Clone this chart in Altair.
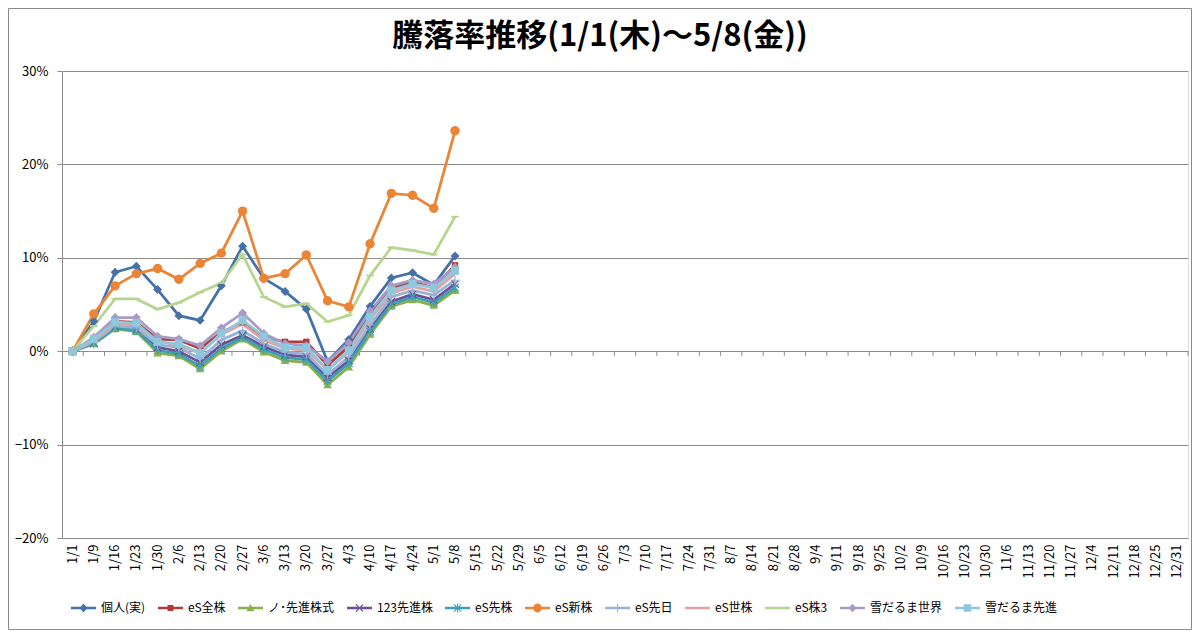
import math
import altair as alt
import pandas as pd

# ---------------- data ----------------
cats = ["1/1", "1/9", "1/16", "1/23", "1/30", "2/6", "2/13", "2/20", "2/27",
        "3/6", "3/13", "3/20", "3/27", "4/3", "4/10", "4/17", "4/24", "5/1",
        "5/8", "5/15", "5/22", "5/29", "6/5", "6/12", "6/19", "6/26", "7/3",
        "7/10", "7/17", "7/24", "7/31", "8/7", "8/14", "8/21", "8/28", "9/4",
        "9/11", "9/18", "9/25", "10/2", "10/9", "10/16", "10/23", "10/30",
        "11/6", "11/13", "11/20", "11/27", "12/4", "12/11", "12/18", "12/25",
        "12/31"]

series_names = ["個人(実)", "eS全株", "ノ･先進株式", "123先進株", "eS先株", "eS新株",
                "eS先日", "eS世株", "eS株3", "雪だるま世界", "雪だるま先進"]

kojin = [0, 3.2, 8.45, 9.1, 6.6, 3.8, 3.3, 7.0, 11.25, 7.8, 6.4, 4.5, -1.1, 1.25, 4.8, 7.85, 8.4, 7.1, 10.2]
es_zen = [0, 1.2, 3.2, 3.1, 1.3, 1.2, 0.3, 2.0, 3.1, 1.5, 1.0, 1.0, -1.5, 0.5, 3.9, 6.8, 7.4, 6.8, 9.2]
no_senshin = [0, 0.8, 2.4, 2.1, -0.2, -0.5, -1.9, 0.0, 1.3, -0.1, -1.0, -1.2, -3.6, -1.7, 1.8, 4.8, 5.5, 4.9, 6.5]
s123 = [0, 0.9, 2.6, 2.3, 0.4, 0.0, -1.2, 0.7, 1.7, 0.5, -0.4, -0.6, -2.8, -1.0, 2.4, 5.3, 6.1, 5.5, 7.2]
es_sen = [0, 0.8, 2.5, 2.2, 0.1, -0.3, -1.6, 0.3, 1.5, 0.2, -0.7, -0.9, -3.2, -1.3, 2.1, 5.0, 5.8, 5.2, 6.8]
es_shin = [0, 4.0, 7.0, 8.3, 8.85, 7.7, 9.4, 10.5, 15.0, 7.8, 8.3, 10.3, 5.4, 4.75, 11.5, 16.9, 16.7, 15.3, 23.6]
es_senjitsu = [0, 1.0, 2.7, 2.5, 0.7, 0.4, -0.8, 1.2, 2.2, 0.8, -0.1, -0.3, -2.5, -0.6, 2.8, 5.8, 6.5, 6.0, 7.6]
es_se = [0, 1.1, 2.9, 2.8, 1.1, 0.6, -0.2, 1.8, 2.9, 1.2, 0.3, 0.1, -2.0, -0.1, 3.4, 6.2, 6.9, 6.4, 8.3]
es_kabu3 = [0, 2.7, 5.6, 5.6, 4.5, 5.2, 6.3, 7.3, 10.35, 5.8, 4.75, 5.1, 3.15, 3.85, 8.1, 11.1, 10.8, 10.35, 14.4]
yuki_sekai = [0, 1.5, 3.6, 3.6, 1.6, 1.3, 0.6, 2.5, 4.1, 1.9, 0.8, 0.6, -1.1, 0.9, 4.3, 7.0, 7.6, 7.2, 9.0]
yuki_senshin = [0, 1.3, 3.1, 3.0, 1.0, 0.8, -0.2, 1.9, 3.3, 1.6, 0.4, 0.4, -2.0, 0.1, 3.7, 6.5, 7.2, 6.8, 8.6]

all_values = [kojin, es_zen, no_senshin, s123, es_sen, es_shin,
              es_senjitsu, es_se, es_kabu3, yuki_sekai, yuki_senshin]

colors = ["#4472A8", "#B03C3A", "#8AB04A", "#6F4E96", "#3AA0B8", "#EC8435",
          "#95B3D7", "#E6A0A0", "#B8D58F", "#A99BC8", "#8DC8DC"]

y_ticks = [-0.2, -0.1, 0.0, 0.1, 0.2, 0.3]
title_text = "騰落率推移(1/1(木)～5/8(金))"

rows = []
for si, (s, vals) in enumerate(zip(series_names, all_values)):
    for ci, (c, v) in enumerate(zip(cats, vals)):
        rows.append({"date": c, "idx": ci, "series": s, "value": v / 100.0})
df = pd.DataFrame(rows)
cat_df = pd.DataFrame({"date": cats})

# ---------------- marker shapes ----------------
def sq(h):
    return [[(-h, -h), (h, -h), (h, h), (-h, h)]]

def circ(r, n=20):
    return [[(r * math.cos(2 * math.pi * k / n), r * math.sin(2 * math.pi * k / n)) for k in range(n)]]

diamond = [[(0, -1.05), (1.05, 0), (0, 1.05), (-1.05, 0)]]
triangle = [[(0, -1.0), (1.0, 0.8), (-1.0, 0.8)]]
xmark = [[(-1, -0.8), (-0.8, -1), (0, -0.2), (0.8, -1), (1, -0.8), (0.2, 0),
          (1, 0.8), (0.8, 1), (0, 0.2), (-0.8, 1), (-1, 0.8), (-0.2, 0)]]
asterisk = xmark + [[(-0.13, -1.1), (0.13, -1.1), (0.13, 1.1), (-0.13, 1.1)]]
plus = [[(-1, -0.13), (1, -0.13), (1, 0.13), (-1, 0.13)],
        [(-0.13, -1), (0.13, -1), (0.13, 1), (-0.13, 1)]]
dash = [[(-0.9, -0.22), (0.9, -0.22), (0.9, 0.22), (-0.9, 0.22)]]
nomark = sq(0.25)

markers = [diamond, sq(0.75), triangle, xmark, asterisk, circ(1.1),
           plus, nomark, dash, diamond, sq(0.95)]


def to_path(polys, s=1.0, dx=0.0):
    out = ""
    for pts in polys:
        out += "M" + "L".join(f"{x * s + dx:.3f},{y * s:.3f}" for x, y in pts) + "Z"
    return out


point_paths = [to_path(m) for m in markers]
legend_line = [[(-1.0, -0.26), (4.0, -0.26), (4.0, 0.26), (-1.0, 0.26)]]
legend_paths = [to_path(legend_line) + to_path(m, 0.8, 1.5) for m in markers]

# ---------------- chart ----------------
GRID = "#8C8C8C"
FONT = "Noto Sans CJK JP"
W, H = 1126, 467
step = W / len(cats)

x_enc = alt.X("date:N", sort=cats, scale=alt.Scale(domain=cats),
              axis=alt.Axis(title=None, labelAngle=270, domain=False, ticks=False,
                            grid=False, labelPadding=6, labelFontSize=13,
                            labelFont=FONT, labelColor="#000000"))
y_enc = alt.Y("value:Q", scale=alt.Scale(domain=[-0.2, 0.3], nice=False, zero=False),
              axis=alt.Axis(title=None, values=y_ticks, format=".0%", grid=True,
                            gridColor=GRID, gridWidth=1, domainColor=GRID,
                            tickColor=GRID, tickSize=5, labelPadding=9,
                            labelFontSize=13, labelFont=FONT, labelColor="#000000"))
color_enc = alt.Color("series:N", scale=alt.Scale(domain=series_names, range=colors),
                      legend=None)

frame = alt.Chart(alt.Data(values=[{}])).mark_rect(
    fillOpacity=0, stroke="#8A8A8A", strokeWidth=1
).encode(x=alt.value(-53.5), x2=alt.value(W + 3.5), y=alt.value(-62.5), y2=alt.value(H + 91.5))

title_mark = alt.Chart(alt.Data(values=[{"t": title_text}])).mark_text(
    font=FONT, fontSize=31, fontWeight="bold", color="#000000",
    align="center", baseline="middle"
).encode(text="t:N", x=alt.value(W / 2 - 25), y=alt.value(-34))

cat_ticks = alt.Chart(cat_df).mark_rule(color=GRID, strokeWidth=1, xOffset=step / 2).encode(
    x=alt.X("date:N", sort=cats, scale=alt.Scale(domain=cats)),
    y=alt.datum(0.0),
    y2=alt.datum(-0.005),
)

lines = alt.Chart(df).mark_line(strokeWidth=2.75).encode(
    x=x_enc, y=y_enc, color=color_enc,
    order=alt.Order("idx:Q"),
)

points = alt.Chart(df).mark_point(filled=True, size=72, opacity=1).encode(
    x=x_enc, y=y_enc, color=color_enc,
    shape=alt.Shape("series:N", scale=alt.Scale(domain=series_names, range=point_paths),
                    legend=None),
)

legend_layer = alt.Chart(df).mark_point(filled=True, opacity=0, size=100).encode(
    x=x_enc, y=y_enc,
    color=alt.Color("series:N", scale=alt.Scale(domain=series_names, range=colors),
                    title=None),
    shape=alt.Shape("series:N", scale=alt.Scale(domain=series_names, range=legend_paths),
                    title=None,
                    legend=alt.Legend(orient="none", legendX=8, legendY=531,
                                      direction="horizontal", columns=11,
                                      symbolSize=100, symbolOpacity=1,
                                      symbolStrokeWidth=0, labelOffset=19,
                                      columnPadding=11, labelFontSize=12,
                                      labelFont=FONT, labelColor="#000000",
                                      labelLimit=200)),
)

chart = alt.layer(frame, title_mark, cat_ticks, lines, points, legend_layer).resolve_scale(
    shape="independent", color="independent"
).properties(
    width=W, height=H,
    autosize=alt.AutoSizeParams(type="none"),
    padding={"left": 54, "top": 63, "right": 4, "bottom": 92},
).configure_view(stroke=None).configure(background="white")

chart.save("out.html", embed_options={"renderer": "svg", "actions": False})
